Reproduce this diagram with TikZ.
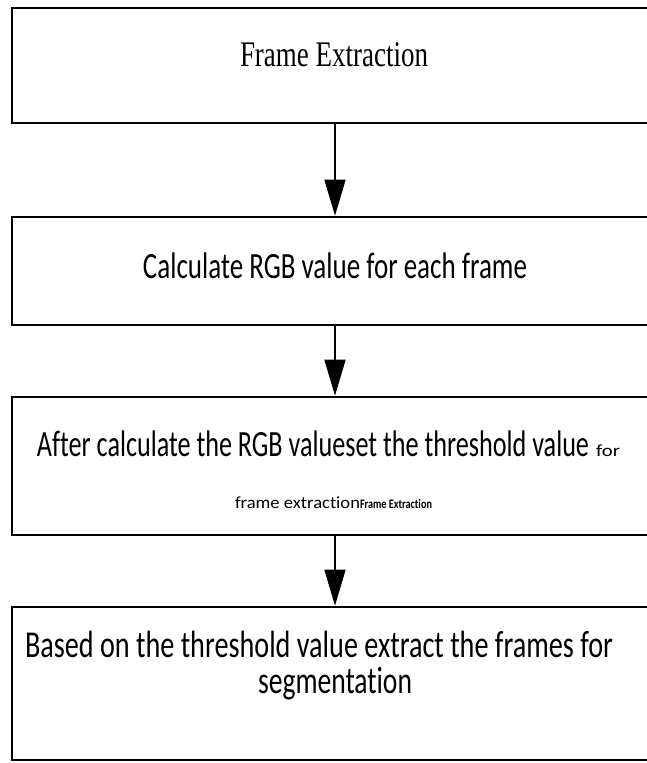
\documentclass[tikz,border=0pt]{standalone}
\usepackage{fontspec}
\setmainfont[Ligatures={NoCommon}]{Carlito}
\newfontfamily\seriffont{Liberation Serif}
\usetikzlibrary{arrows.meta}

\tikzset{
  stagebox/.style={draw=black, line width=2.6pt, fill=white, rectangle,
    minimum width=646pt, inner sep=0pt},
  flowarrow/.style={draw=black, line width=1.6pt,
    -{Triangle[length=36pt,width=21pt]}},
  label/.style={inner sep=0pt, outer sep=0pt, text=black}
}

\begin{document}
\begin{tikzpicture}[x=1pt, y=-1pt]
  \clip (0,0) rectangle (647,763);
  \fill[white] (0,0) rectangle (647,763);

  % the four stages
  \node[stagebox, minimum height=115pt] (b1) at (335,65.5) {};
  \node[stagebox, minimum height=108pt] (b2) at (335,271) {};
  \node[stagebox, minimum height=138pt] (b3) at (335,466) {};
  \node[stagebox, minimum height=153pt] (b4) at (335,683.5) {};

  % stage texts
  \node[label, anchor=base] (t1) at (334,66)
    {\resizebox{188pt}{\height}{\seriffont\fontsize{36}{36}\selectfont Frame Extraction}};
  \node[label, anchor=base] (t2) at (335,278)
    {\resizebox{384pt}{\height}{\fontsize{37}{37}\selectfont Calculate RGB value for each frame}};
  \node[label, anchor=base west] (t3a) at (37,456)
    {\resizebox{552pt}{\height}{\fontsize{37}{37}\selectfont After calculate the RGB valueset the threshold value}\hspace{7pt}%
     \resizebox{24pt}{\height}{\fontsize{17}{17}\selectfont for}};
  \node[label, anchor=base west] (t3b) at (235,508)
    {\resizebox{125pt}{\height}{\fontsize{17}{17}\selectfont frame extraction}%
     \resizebox{72pt}{\height}{\fontsize{13}{13}\selectfont\bfseries Frame Extraction}};
  \node[label, anchor=base west] (t4a) at (25,657)
    {\resizebox{588pt}{\height}{\fontsize{38}{38}\selectfont Based on the threshold value extract the frames for}};
  \node[label, anchor=base] (t4b) at (335,693)
    {\resizebox{154pt}{\height}{\fontsize{38}{38}\selectfont segmentation}};

  % connectors
  \draw[flowarrow] (b1.south) -- (b2.north);
  \draw[flowarrow] (b2.south) -- (b3.north);
  \draw[flowarrow] (b3.south) -- (b4.north);
\end{tikzpicture}
\end{document}
